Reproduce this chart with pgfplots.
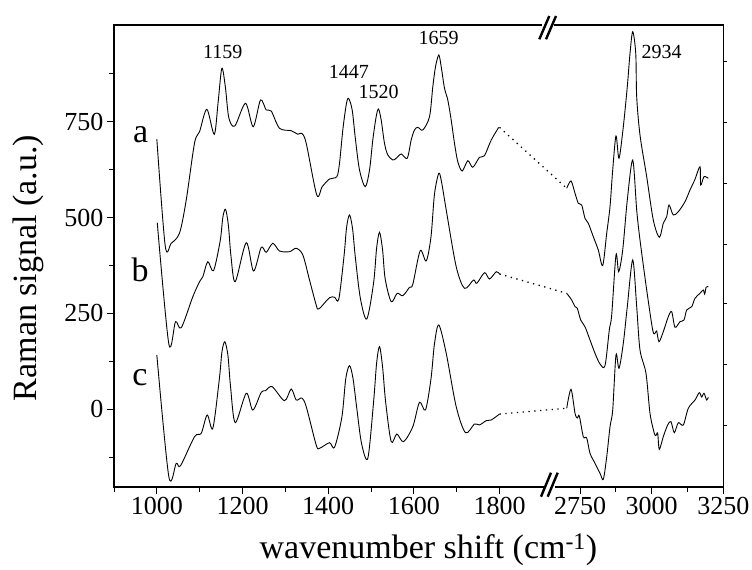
\documentclass[border=0pt]{standalone}
\usepackage{fontspec}
\setmainfont{Liberation Serif}
\usepackage{pgfplots}
\pgfplotsset{compat=1.18}
\begin{document}
\begin{tikzpicture}
\pgfplotsset{
  brk/.style={x filter/.expression={x<2200 ? x : 1987.8+(x-2750)*0.669}},
  sp/.style={black, line width=0.9bp, smooth, tension=0.5, mark=none},
  dt/.style={black, line width=1.3bp, dash pattern=on 1.3bp off 4.5bp, mark=none},
}
\begin{axis}[
  at={(0,0)}, anchor=south west,
  scale only axis, width=609.3bp, height=462bp,
  xmin=900, xmax=2322.3, ymin=-202.6, ymax=1001.9,
  brk,
  xtick={1000,1200,1400,1600,1800,1987.8,2155.05,2322.3},
  xticklabels={1000,1200,1400,1600,1800,2750,3000,3250},
  minor xtick={900,1100,1300,1500,1700,2071.4,2238.7},
  ytick={0,250,500,750},
  minor ytick={-125,125,375,625,875},
  /pgf/number format/assume math mode=true,
  tick align=outside, xtick pos=bottom, ytick pos=left,
  major tick length=7bp, minor tick length=4.5bp,
  tick style={black, line width=0.9bp},
  axis line style={line width=1.1bp},
  tick label style={font=\fontsize{26bp}{28bp}\selectfont},
  xlabel={wavenumber shift (cm\textsuperscript{-1})},
  ylabel={Raman signal (a.u.)},
  label style={font=\fontsize{34bp}{38bp}\selectfont},
  xlabel style={at={(axis description cs:0.516,-0.136)}, anchor=center},
  ylabel style={at={(axis description cs:-0.141,0.474)}, anchor=center},
  clip=false,
]
% ---------- curve a ----------
\addplot[sp] coordinates {
(1000,704) (1019.6,425.7) (1033.6,432.8) (1053,459.6) (1068.6,545.6) (1088,694.2)
(1099.7,723.7) (1116.7,782.1) (1134,716.9) (1143,800) (1151.7,889) (1160,840) (1168,760) (1182,738.6)
(1207,797.7) (1225,736.7) (1242,806.4) (1255.3,780.3) (1267,777.7) (1286.4,732.6)
(1313.7,726.3) (1329.1,717) (1338.4,719.5) (1348.7,693.5) (1373.4,558.7) (1386,580.3)
(1403,600.4) (1420.1,606.4) (1426.4,641.3) (1434.1,728.1) (1442,793.3) (1447.4,810.8)
(1456,780.3) (1463.8,702) (1473.1,623.9) (1486.4,580.3) (1496.5,623.9) (1504.1,702)
(1512,762.8) (1517.4,782.9) (1523.7,754.2) (1531.4,693.5) (1539.1,663) (1550.8,650)
(1558.7,654.4) (1570.4,665.6) (1584.4,654.4) (1593.7,702) (1601.4,728.1) (1609.2,735.2)
(1620.8,728.1) (1636.5,762.8) (1644.2,841) (1650.5,893.2) (1658.2,923.7) (1663.8,893.2)
(1671.5,836.8) (1679.2,806.4) (1687.1,754.2) (1694.8,693.5) (1702.5,645.5) (1712.8,621.3)
(1725.9,648.1) (1737.5,630.9) (1753.2,657) (1764.8,661.1) (1780.5,702) (1798.2,735.2)
};
\addplot[dt] coordinates {(1800,735) (2703.6,576.1)};
\addplot[sp] coordinates {
(2703.6,576.1) (2718.6,595.2) (2732.6,563.1) (2744.1,537) (2755.9,532.6) (2767.4,497.9)
(2779,484.9) (2796.4,450) (2813.8,415.3) (2829.2,374.9) (2843.2,459) (2854.7,528)
(2864.1,624) (2875.6,712.5) (2886.1,654.4) (2901.1,736.7) (2915,841) (2924.5,928)
(2933.9,984.4) (2944.5,928) (2947.8,815) (2959.3,715.1) (2982.7,606.4) (3005.7,493.5)
(3026.7,448.4) (3040.6,484.9) (3052.5,502.1) (3060.5,532.6) (3075.5,506.5) (3093,515.1)
(3116.3,541.2) (3133.8,571.7) (3151.2,599.6) (3168.7,632.5) (3171.1,584.8) (3182.6,606.4)
(3197.6,602.2)
};
% ---------- curve b ----------
\addplot[sp] coordinates {
(1001,486.5) (1028,170.2) (1043.6,228.4) (1057,212.7) (1084,293.5) (1099.7,332.7)
(1107.4,345.7) (1119,384.8) (1132.3,361.3) (1148,440) (1154,500) (1160.3,521.4)
(1167,480) (1173,400) (1183,332.7) (1208.7,434.3) (1225.7,360.5) (1243.7,422.3)
(1255.3,409.3) (1270.7,432.8) (1286.4,412.7) (1309.7,410.9) (1325.4,419.7) (1340.8,402.3)
(1356.4,337.1) (1372,271.9) (1378.1,261.5) (1403,290.9) (1414.8,292) (1424.8,287.6)
(1437,400) (1443,475) (1449.8,506.5) (1457,470) (1463,400) (1475,290) (1490.1,235.4)
(1506,330) (1513,420) (1519.8,461.4) (1527,415) (1533,340) (1547.1,280.5)
(1561.1,302.4) (1574.2,296.2) (1589.8,318.1) (1597.5,325.9) (1614.8,413.5) (1628.8,386.6)
(1640,450) (1648,560) (1658.2,615.3) (1665,590) (1675.5,519.6) (1698.8,371.8)
(1718.2,315.4) (1739.2,337.1) (1746.9,328.5) (1764.9,356.1) (1776.6,339.7)
(1792.2,358.7) (1800,352.7)
};
\addplot[dt] coordinates {(1800,352.7) (2703.6,302.4)};
\addplot[sp] coordinates {
(2703.6,302.4) (2721,285) (2732.6,267.5) (2740.6,263.3) (2752.4,232.8) (2767.4,215.3)
(2784.9,180.6) (2802.3,146) (2819.8,118.1) (2837.2,113.7) (2852.2,206.7) (2860.6,245.8)
(2875.6,402.3) (2885,358.7) (2899,415.3) (2915,545.6) (2933.9,649.9) (2947.8,519.6)
(2959.3,441.4) (2982.7,311) (3003.6,206.7) (3011.7,198.1) (3017.6,204.1) (3025.6,176.2)
(3040.6,202.3) (3058.1,241.4) (3069.9,254.4) (3081.5,213.8) (3098.9,228.4) (3112.9,232.8)
(3122.3,258.9) (3139.7,267.5) (3151.2,289.4) (3168.7,302.4) (3180.2,311) (3185,300)
(3190,318) (3197.6,319.6)
};
% ---------- curve c ----------
\addplot[sp] coordinates {
(1000,141.6) (1028,-175.7) (1045.3,-140.8) (1055.3,-147) (1088,-71.4) (1103.6,-62.6)
(1117.6,-14.9) (1130.7,-49.5) (1146,80) (1152,150) (1158.7,176.2) (1166,140) (1172,60)
(1183,-34.9) (1208.7,41.7) (1224.1,-1.8) (1243.7,44.3) (1253.7,48.5) (1269.3,58.9)
(1298,22.4) (1313.7,52.9) (1325.4,24.2) (1338.4,29.5) (1348.7,6.8) (1372,-93.1)
(1379.8,-101.7) (1403,-87.1) (1414.8,-99.1) (1432,-20) (1441,80) (1449.8,113.7)
(1458,80) (1467,0) (1478,-90) (1492.5,-127.7) (1506,20) (1513,120) (1519.8,163.2)
(1527,110) (1534,20) (1547.1,-84.5) (1560.2,-64.4) (1575.8,-84.5) (1597.5,-45.4)
(1613.1,18.2) (1627.1,-1.8) (1640,80) (1648,170) (1658.2,219.8) (1675.5,146)
(1698.8,6.8) (1720.5,-61) (1741.5,-38.3) (1753.2,-40.9) (1768.8,-29.7) (1780.5,-27.9)
(1800,-12.3)
};
\addplot[dt] coordinates {(1800,-12.3) (2703.6,2.6)};
\addplot[sp] coordinates {
(2703.6,2.6) (2718.6,52.1) (2732.6,-10.4) (2740.6,-22.7) (2747.6,-17.5) (2761.5,-71.4)
(2773.4,-74.8) (2784.9,-114.7) (2802.3,-140.8) (2819.8,-166.8) (2831.3,-182.5)
(2843.2,-123.6) (2854.7,-45.4) (2864.1,-1.8) (2875.6,141.6) (2886.1,106.9) (2901.1,172.1)
(2915,267.5) (2933.9,389.2) (2947.8,267.5) (2959.3,154.6) (2980.2,93.9) (2994.2,-10.4)
(3009.2,-62.6) (3015,-68.3) (3021,-62.6) (3026.7,-104.3) (3040.6,-71.4) (3055.9,-40.9)
(3067.4,-32.3) (3079,-61) (3093,-34.9) (3110.4,-40.9) (3127.9,2.6) (3151.2,24.2)
(3166.2,43.3) (3174.5,32.1) (3182.6,41.7) (3192,24.2) (3197.6,31.3)
};
% ---------- labels ----------
\node[font=\fontsize{20bp}{22bp}\selectfont] at (axis cs:1154,932) {1159};
\node[font=\fontsize{20bp}{22bp}\selectfont] at (axis cs:1448,880) {1447};
\node[font=\fontsize{20bp}{22bp}\selectfont] at (axis cs:1518,828) {1520};
\node[font=\fontsize{20bp}{22bp}\selectfont] at (axis cs:1658,967) {1659};
\node[font=\fontsize{20bp}{22bp}\selectfont] at (axis cs:2178.5,932) {2934};
\node[font=\fontsize{34bp}{36bp}\selectfont] at (axis cs:962.3,715) {a};
\node[font=\fontsize{34bp}{36bp}\selectfont] at (axis cs:960.7,363) {b};
\node[font=\fontsize{34bp}{36bp}\selectfont] at (axis cs:960.7,83.4) {c};
\end{axis}
\begin{axis}[
  at={(0,0)}, anchor=south west,
  scale only axis, width=609.3bp, height=462bp,
  xmin=900, xmax=2322.3, ymin=-202.6, ymax=1001.9,
  hide x axis, axis y line*=right,
  ytick={-42.4,115.8,274.8,430.4,589.4,748.4,906.4},
  yticklabels={},
  tick align=outside, major tick length=4bp,
  tick style={black, line width=0.9bp},
  axis line style={line width=1.1bp},
]
\addplot[draw=none] coordinates {(1000,0)};
\end{axis}
% axis break marks
\fill[white] (428bp,455bp) rectangle (440bp,466bp);
\fill[white] (430bp,-3bp) rectangle (441bp,3bp);
\draw[line width=2.4bp] (425.3bp,447.7bp) -- (435.3bp,471bp);
\draw[line width=2.4bp] (432bp,447.7bp) -- (442bp,471bp);
\draw[line width=2.4bp] (427bp,-9.7bp) -- (437bp,14.3bp);
\draw[line width=2.4bp] (433.7bp,-9.7bp) -- (443.7bp,14.3bp);
\pgfresetboundingbox
\path[use as bounding box] (-114bp,-83bp) rectangle (638bp,487bp);
\end{tikzpicture}
\end{document}
